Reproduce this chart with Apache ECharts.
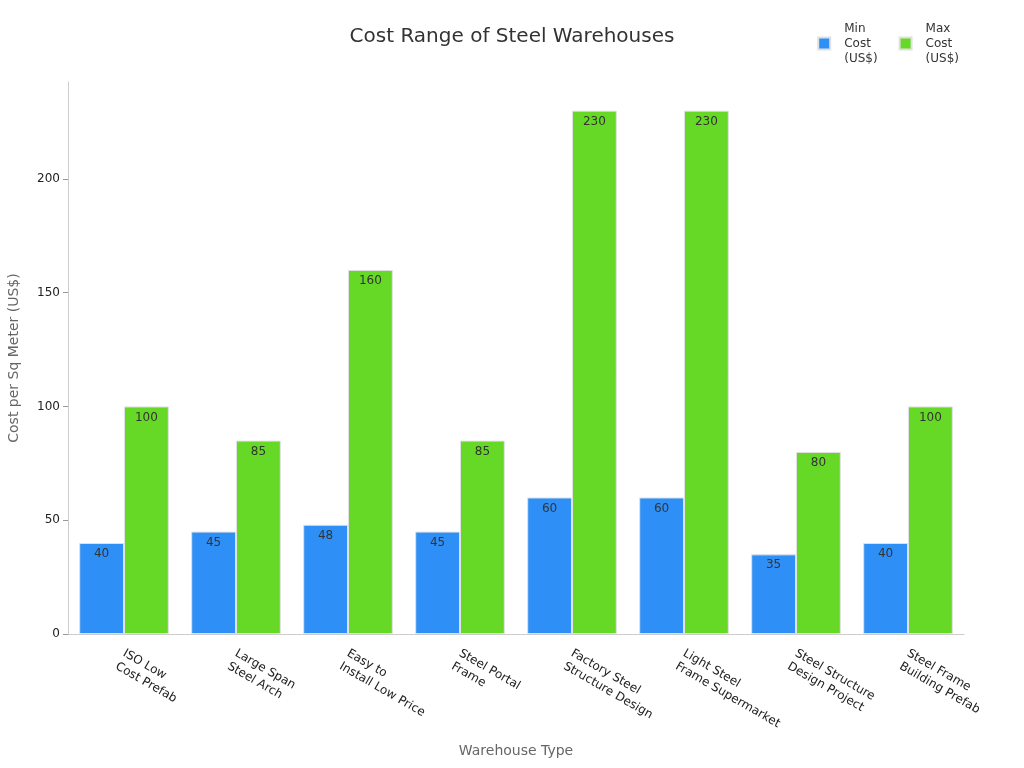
<!DOCTYPE html>
<html>
<head>
<meta charset="utf-8">
<script src="https://cdn.jsdelivr.net/npm/echarts@6/dist/echarts.min.js"></script>
<style>
  html, body { margin: 0; padding: 0; background: #fff; }
  #main { width: 1024px; height: 768px; }
</style>
</head>
<body>
<div id="main"></div>
<script>
var categories = ['ISO Low\nCost Prefab', 'Large Span\nSteel Arch', 'Easy to\nInstall Low Price', 'Steel Portal\nFrame',
  'Factory Steel\nStructure Design', 'Light Steel\nFrame Supermarket', 'Steel Structure\nDesign Project', 'Steel Frame\nBuilding Prefab'];
var minCost = [40, 45, 48, 45, 60, 60, 35, 40];
var maxCost = [100, 85, 160, 85, 230, 230, 80, 100];
var yTicks = [0, 50, 100, 150, 200];
var seriesNames = ['Min\nCost\n(US$)', 'Max\nCost\n(US$)'];

var chart = echarts.init(document.getElementById('main'));
var labelStyle = {
  show: true,
  position: 'insideTop',
  color: '#333',
  fontSize: 12,
  fontFamily: 'DejaVu Sans'
};
var option = {
  textStyle: { fontFamily: 'DejaVu Sans' },
  title: {
    text: 'Cost Range of Steel Warehouses',
    left: 'center',
    top: 22,
    textStyle: { fontSize: 20, fontWeight: 'normal', color: '#333', fontFamily: 'DejaVu Sans' }
  },
  legend: {
    data: seriesNames,
    top: 16,
    right: 60,
    itemWidth: 12,
    itemHeight: 12,
    itemGap: 21,
    icon: 'rect',
    textStyle: { fontSize: 12, color: '#333', lineHeight: 15, padding: [0, 0, 0, 9] }
  },
  grid: { left: 68, right: 60, top: 82, bottom: 134, outerBoundsMode: 'none' },
  xAxis: {
    type: 'category',
    data: categories,
    name: 'Warehouse Type',
    nameLocation: 'middle',
    nameGap: 110,
    nameTextStyle: { color: '#666', fontSize: 14 },
    axisLine: { lineStyle: { color: '#ccc' } },
    axisTick: { alignWithLabel: true, lineStyle: { color: '#999' } },
    axisLabel: { rotate: -30, color: '#222', fontSize: 12, lineHeight: 15, margin: 10, verticalAlign: 'top', padding: [0, 0, 0, 4] }
  },
  yAxis: {
    type: 'value',
    min: 0,
    max: 242.6,
    name: 'Cost per Sq Meter (US$)',
    nameLocation: 'middle',
    nameGap: 47,
    nameTextStyle: { color: '#666', fontSize: 14 },
    axisLine: { show: true, lineStyle: { color: '#ccc' } },
    axisTick: { show: true, customValues: yTicks, lineStyle: { color: '#999' } },
    axisLabel: { color: '#222', fontSize: 12, customValues: yTicks },
    splitLine: { show: false }
  },
  series: [
    {
      name: seriesNames[0],
      type: 'bar',
      data: minCost,
      barGap: '0%',
      barCategoryGap: '20%',
      itemStyle: { color: '#2e90f7', borderColor: '#e0e0e0', borderWidth: 1 },
      label: labelStyle
    },
    {
      name: seriesNames[1],
      type: 'bar',
      data: maxCost,
      itemStyle: { color: '#66d927', borderColor: '#e0e0e0', borderWidth: 1 },
      label: labelStyle
    }
  ]
};
chart.setOption(option);
</script>
</body>
</html>
